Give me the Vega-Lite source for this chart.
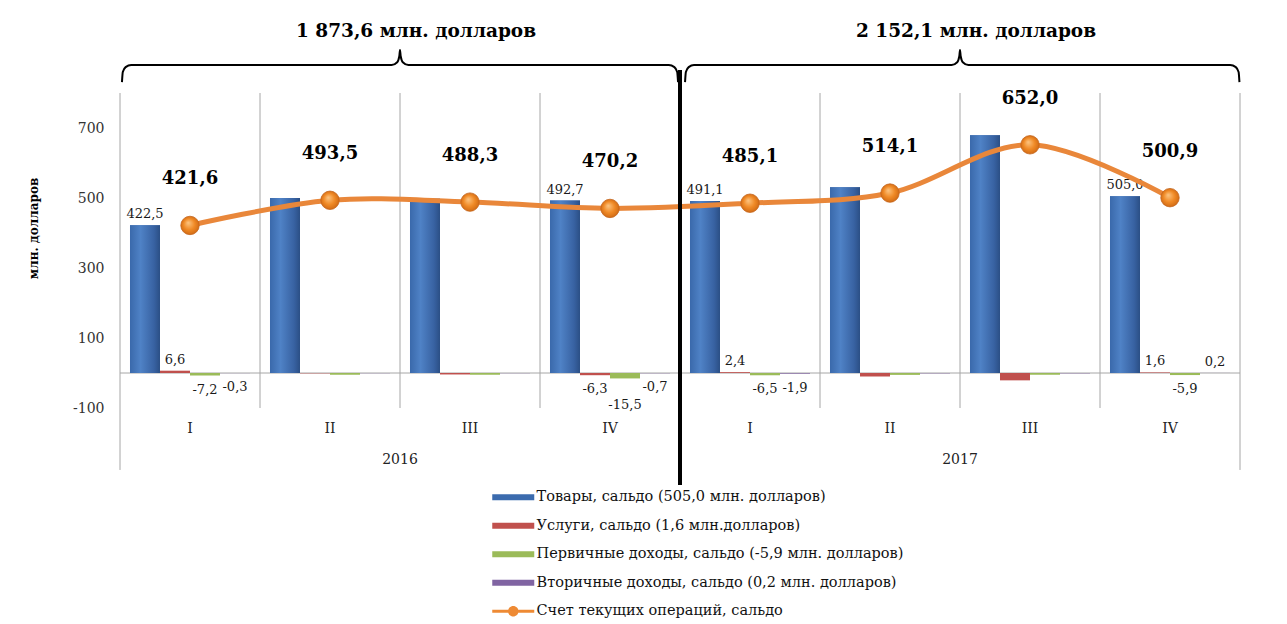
{
  "$schema": "https://vega.github.io/schema/vega-lite/v6.json",
  "width": 1120,
  "height": 315,
  "autosize": {"type": "none"},
  "padding": {"left": 120, "top": 93, "right": 47, "bottom": 216},
  "background": "white",
  "config": {
    "locale": {"number": {"decimal": ",", "thousands": " ", "grouping": [3], "currency": ["", ""], "minus": "-"}},
    "view": {"stroke": null},
    "font": "DejaVu Serif",
    "text": {"font": "DejaVu Serif"},
    "axis": {"labelFont": "DejaVu Serif", "titleFont": "DejaVu Serif"},
    "legend": {"labelFont": "DejaVu Serif"}
  },
  "datasets": {
    "bars": [
      {"q": "2016-I", "quarter": "I", "series": "Товары, сальдо (505,0 млн. долларов)", "value": 422.5},
      {"q": "2016-I", "quarter": "I", "series": "Услуги, сальдо (1,6 млн.долларов)", "value": 6.6},
      {"q": "2016-I", "quarter": "I", "series": "Первичные доходы, сальдо (-5,9 млн. долларов)", "value": -7.2},
      {"q": "2016-I", "quarter": "I", "series": "Вторичные доходы, сальдо (0,2 млн. долларов)", "value": -0.3},
      {"q": "2016-II", "quarter": "II", "series": "Товары, сальдо (505,0 млн. долларов)", "value": 500.0},
      {"q": "2016-II", "quarter": "II", "series": "Услуги, сальдо (1,6 млн.долларов)", "value": -1.0},
      {"q": "2016-II", "quarter": "II", "series": "Первичные доходы, сальдо (-5,9 млн. долларов)", "value": -5.0},
      {"q": "2016-II", "quarter": "II", "series": "Вторичные доходы, сальдо (0,2 млн. долларов)", "value": -0.5},
      {"q": "2016-III", "quarter": "III", "series": "Товары, сальдо (505,0 млн. долларов)", "value": 498.0},
      {"q": "2016-III", "quarter": "III", "series": "Услуги, сальдо (1,6 млн.долларов)", "value": -4.2},
      {"q": "2016-III", "quarter": "III", "series": "Первичные доходы, сальдо (-5,9 млн. долларов)", "value": -5.0},
      {"q": "2016-III", "quarter": "III", "series": "Вторичные доходы, сальдо (0,2 млн. долларов)", "value": -0.5},
      {"q": "2016-IV", "quarter": "IV", "series": "Товары, сальдо (505,0 млн. долларов)", "value": 492.7},
      {"q": "2016-IV", "quarter": "IV", "series": "Услуги, сальдо (1,6 млн.долларов)", "value": -6.3},
      {"q": "2016-IV", "quarter": "IV", "series": "Первичные доходы, сальдо (-5,9 млн. долларов)", "value": -15.5},
      {"q": "2016-IV", "quarter": "IV", "series": "Вторичные доходы, сальдо (0,2 млн. долларов)", "value": -0.7},
      {"q": "2017-I", "quarter": "I", "series": "Товары, сальдо (505,0 млн. долларов)", "value": 491.1},
      {"q": "2017-I", "quarter": "I", "series": "Услуги, сальдо (1,6 млн.долларов)", "value": 2.4},
      {"q": "2017-I", "quarter": "I", "series": "Первичные доходы, сальдо (-5,9 млн. долларов)", "value": -6.5},
      {"q": "2017-I", "quarter": "I", "series": "Вторичные доходы, сальдо (0,2 млн. долларов)", "value": -1.9},
      {"q": "2017-II", "quarter": "II", "series": "Товары, сальдо (505,0 млн. долларов)", "value": 530.5},
      {"q": "2017-II", "quarter": "II", "series": "Услуги, сальдо (1,6 млн.долларов)", "value": -10.0},
      {"q": "2017-II", "quarter": "II", "series": "Первичные доходы, сальдо (-5,9 млн. долларов)", "value": -5.4},
      {"q": "2017-II", "quarter": "II", "series": "Вторичные доходы, сальдо (0,2 млн. долларов)", "value": -1.0},
      {"q": "2017-III", "quarter": "III", "series": "Товары, сальдо (505,0 млн. долларов)", "value": 679.0},
      {"q": "2017-III", "quarter": "III", "series": "Услуги, сальдо (1,6 млн.долларов)", "value": -21.0},
      {"q": "2017-III", "quarter": "III", "series": "Первичные доходы, сальдо (-5,9 млн. долларов)", "value": -5.0},
      {"q": "2017-III", "quarter": "III", "series": "Вторичные доходы, сальдо (0,2 млн. долларов)", "value": -1.0},
      {"q": "2017-IV", "quarter": "IV", "series": "Товары, сальдо (505,0 млн. долларов)", "value": 505.0},
      {"q": "2017-IV", "quarter": "IV", "series": "Услуги, сальдо (1,6 млн.долларов)", "value": 1.6},
      {"q": "2017-IV", "quarter": "IV", "series": "Первичные доходы, сальдо (-5,9 млн. долларов)", "value": -5.9},
      {"q": "2017-IV", "quarter": "IV", "series": "Вторичные доходы, сальдо (0,2 млн. долларов)", "value": 0.2}
    ],
    "ca": [
      {"q": "2016-I", "quarter": "I", "value": 421.6},
      {"q": "2016-II", "quarter": "II", "value": 493.5},
      {"q": "2016-III", "quarter": "III", "value": 488.3},
      {"q": "2016-IV", "quarter": "IV", "value": 470.2},
      {"q": "2017-I", "quarter": "I", "value": 485.1},
      {"q": "2017-II", "quarter": "II", "value": 514.1},
      {"q": "2017-III", "quarter": "III", "value": 652.0},
      {"q": "2017-IV", "quarter": "IV", "value": 500.9}
    ],
    "years": [
      {"q": "2016-III", "year": "2016", "title": "1 873,6 млн. долларов"},
      {"q": "2017-III", "year": "2017", "title": "2 152,1 млн. долларов"}
    ],
    "braces": [
      {"brace": "2016", "pos": 0.014, "v": 831},
      {"brace": "2016", "pos": 0.02, "v": 860},
      {"brace": "2016", "pos": 0.04, "v": 874},
      {"brace": "2016", "pos": 0.08, "v": 880},
      {"brace": "2016", "pos": 1.94, "v": 880},
      {"brace": "2016", "pos": 1.98, "v": 888},
      {"brace": "2016", "pos": 1.995, "v": 905},
      {"brace": "2016", "pos": 2.0, "v": 923},
      {"brace": "2016", "pos": 2.005, "v": 905},
      {"brace": "2016", "pos": 2.02, "v": 888},
      {"brace": "2016", "pos": 2.06, "v": 880},
      {"brace": "2016", "pos": 3.92, "v": 880},
      {"brace": "2016", "pos": 3.96, "v": 874},
      {"brace": "2016", "pos": 3.98, "v": 860},
      {"brace": "2016", "pos": 3.986, "v": 831},
      {"brace": "2017", "pos": 4.036, "v": 831},
      {"brace": "2017", "pos": 4.042, "v": 860},
      {"brace": "2017", "pos": 4.062, "v": 874},
      {"brace": "2017", "pos": 4.1, "v": 880},
      {"brace": "2017", "pos": 5.94, "v": 880},
      {"brace": "2017", "pos": 5.98, "v": 888},
      {"brace": "2017", "pos": 5.995, "v": 905},
      {"brace": "2017", "pos": 6.0, "v": 923},
      {"brace": "2017", "pos": 6.005, "v": 905},
      {"brace": "2017", "pos": 6.02, "v": 888},
      {"brace": "2017", "pos": 6.06, "v": 880},
      {"brace": "2017", "pos": 7.93, "v": 880},
      {"brace": "2017", "pos": 7.97, "v": 874},
      {"brace": "2017", "pos": 7.99, "v": 860},
      {"brace": "2017", "pos": 7.996, "v": 831}
    ]
  },
  "layer": [
    {
      "layer": [
        {
          "data": {"values": [{}]},
          "mark": {"type": "rule", "color": "#A6A6A6", "strokeWidth": 1},
          "encoding": {"y": {"datum": 0, "type": "quantitative"}}
        },
        {
          "data": {"name": "ca"},
          "transform": [{"filter": "datum.quarter != 'I'"}],
          "mark": {"type": "rule", "color": "#A6A6A6", "strokeWidth": 1},
          "encoding": {
            "x": {"field": "q", "type": "nominal", "bandPosition": 0, "axis": null},
            "y": {"datum": 800, "type": "quantitative"},
            "y2": {"datum": -100}
          }
        },
        {
          "data": {"name": "ca"},
          "transform": [{"filter": "datum.q == '2016-I'"}],
          "mark": {"type": "rule", "color": "#A6A6A6", "strokeWidth": 1},
          "encoding": {
            "x": {"field": "q", "type": "nominal", "bandPosition": 0, "axis": null},
            "y": {"datum": 800, "type": "quantitative"},
            "y2": {"datum": -277}
          }
        },
        {
          "data": {"name": "ca"},
          "transform": [{"filter": "datum.q == '2017-IV'"}],
          "mark": {"type": "rule", "color": "#A6A6A6", "strokeWidth": 1},
          "encoding": {
            "x": {"field": "q", "type": "nominal", "bandPosition": 1, "axis": null},
            "y": {"datum": 800, "type": "quantitative"},
            "y2": {"datum": -277}
          }
        },
        {
          "data": {"name": "bars"},
          "mark": {"type": "bar"},
          "encoding": {
            "x": {"field": "q", "type": "nominal", "axis": null,
                  "scale": {"domain": ["2016-I", "2016-II", "2016-III", "2016-IV", "2017-I", "2017-II", "2017-III", "2017-IV"], "paddingInner": 0, "paddingOuter": 0}},
            "xOffset": {"field": "series", "type": "nominal",
                        "scale": {"domain": ["Товары, сальдо (505,0 млн. долларов)", "Услуги, сальдо (1,6 млн.долларов)", "Первичные доходы, сальдо (-5,9 млн. долларов)", "Вторичные доходы, сальдо (0,2 млн. долларов)"], "paddingInner": 0, "paddingOuter": 0.3333}},
            "y": {"field": "value", "type": "quantitative",
                  "scale": {"domain": [-100, 800], "nice": false, "zero": false},
                  "axis": {"values": [-100, 100, 300, 500, 700], "grid": false, "ticks": false, "domain": false,
                           "labelFontSize": 14, "labelColor": "#333333", "labelPadding": 16, "format": "d",
                           "title": "млн. долларов", "titleFontSize": 12, "titleFontWeight": "bold", "titleColor": "#000000",
                           "titleX": -87, "titleY": 135, "titleAngle": -90, "titleBaseline": "middle", "titleAlign": "center"}},
            "color": {"field": "series", "type": "nominal",
                      "scale": {"domain": ["Товары, сальдо (505,0 млн. долларов)", "Услуги, сальдо (1,6 млн.долларов)", "Первичные доходы, сальдо (-5,9 млн. долларов)", "Вторичные доходы, сальдо (0,2 млн. долларов)", "Счет текущих операций, сальдо"],
                                "range": ["#3B6BAE", "#C0504D", "#9BBB59", "#8064A2", "#EE8A34"]},
                      "legend": {"orient": "none", "legendX": 386, "legendY": 397, "direction": "vertical", "title": null,
                                 "labelFontSize": 14.5, "labelColor": "#111111", "labelLimit": 0, "labelOffset": 16,
                                 "symbolSize": 196, "symbolStrokeWidth": 0, "rowPadding": 13.5, "symbolType": "M-3,-0.43H3V0.43H-3Z",
                                 "encode": {"symbols": {"update": {"shape": {"signal": "datum.value === 'Счет текущих операций, сальдо' ? 'M-3,-0.2H3V0.2H-3Z M0,-0.75A0.75,0.75 0 1,1 0,0.75A0.75,0.75 0 1,1 0,-0.75Z' : 'M-3,-0.43H3V0.43H-3Z'"}}}}}}
          }
        },
        {
          "data": {"name": "bars"},
          "transform": [{"filter": "datum.series == 'Товары, сальдо (505,0 млн. долларов)'"}],
          "mark": {"type": "bar",
                   "fill": {"gradient": "linear", "x1": 0, "y1": 0, "x2": 1, "y2": 0,
                            "stops": [{"offset": 0, "color": "#3A69AB"}, {"offset": 0.35, "color": "#4F82C6"}, {"offset": 0.8, "color": "#3862A2"}, {"offset": 1, "color": "#2B4F85"}]}},
          "encoding": {
            "x": {"field": "q", "type": "nominal", "axis": null},
            "xOffset": {"field": "series", "type": "nominal"},
            "y": {"field": "value", "type": "quantitative"}
          }
        },
        {
          "data": {"name": "bars"},
          "transform": [{"filter": "(datum.quarter == 'I' || datum.quarter == 'IV') && datum.value >= 0"}],
          "mark": {"type": "text", "baseline": "bottom", "dy": -4, "fontSize": 13, "color": "#1A1A1A"},
          "encoding": {
            "x": {"field": "q", "type": "nominal", "axis": null},
            "xOffset": {"field": "series", "type": "nominal"},
            "y": {"field": "value", "type": "quantitative"},
            "text": {"field": "value", "type": "quantitative", "format": ".1f"}
          }
        },
        {
          "data": {"name": "bars"},
          "transform": [{"filter": "(datum.quarter == 'I' || datum.quarter == 'IV') && datum.value < 0 && datum.value >= -10"}],
          "mark": {"type": "text", "baseline": "top", "dy": 8, "fontSize": 13, "color": "#1A1A1A"},
          "encoding": {
            "x": {"field": "q", "type": "nominal", "axis": null},
            "xOffset": {"field": "series", "type": "nominal"},
            "y": {"field": "value", "type": "quantitative"},
            "text": {"field": "value", "type": "quantitative", "format": ".1f"}
          }
        },
        {
          "data": {"name": "bars"},
          "transform": [{"filter": "(datum.quarter == 'I' || datum.quarter == 'IV') && datum.value < -10"}],
          "mark": {"type": "text", "baseline": "top", "dy": 21, "fontSize": 13, "color": "#1A1A1A"},
          "encoding": {
            "x": {"field": "q", "type": "nominal", "axis": null},
            "xOffset": {"field": "series", "type": "nominal"},
            "y": {"field": "value", "type": "quantitative"},
            "text": {"field": "value", "type": "quantitative", "format": ".1f"}
          }
        },
        {
          "data": {"name": "ca"},
          "mark": {"type": "line", "interpolate": "cardinal", "color": "#E9873A", "strokeWidth": 5},
          "encoding": {
            "x": {"field": "q", "type": "nominal", "axis": null},
            "y": {"field": "value", "type": "quantitative"}
          }
        },
        {
          "data": {"name": "ca"},
          "mark": {"type": "point", "filled": true, "size": 340, "opacity": 1, "stroke": "#C4651C", "strokeWidth": 0.8,
                   "fill": {"gradient": "radial", "x1": 0.4, "y1": 0.35, "r1": 0, "x2": 0.5, "y2": 0.5, "r2": 0.55,
                            "stops": [{"offset": 0, "color": "#FCC583"}, {"offset": 0.55, "color": "#F08A26"}, {"offset": 1, "color": "#CC6612"}]}},
          "encoding": {
            "x": {"field": "q", "type": "nominal", "axis": null},
            "y": {"field": "value", "type": "quantitative"}
          }
        },
        {
          "data": {"name": "ca"},
          "mark": {"type": "text", "baseline": "middle", "dy": -46, "fontSize": 18, "fontWeight": "bold", "color": "#000000"},
          "encoding": {
            "x": {"field": "q", "type": "nominal", "axis": null},
            "y": {"field": "value", "type": "quantitative"},
            "text": {"field": "value", "type": "quantitative", "format": ".1f"}
          }
        },
        {
          "data": {"name": "ca"},
          "mark": {"type": "text", "baseline": "middle", "fontSize": 14, "color": "#222222"},
          "encoding": {
            "x": {"field": "q", "type": "nominal", "axis": null},
            "y": {"datum": -160, "type": "quantitative"},
            "text": {"field": "quarter"}
          }
        },
        {
          "data": {"name": "years"},
          "mark": {"type": "text", "baseline": "middle", "fontSize": 14, "color": "#222222"},
          "encoding": {
            "x": {"field": "q", "type": "nominal", "bandPosition": 0, "axis": null},
            "y": {"datum": -249, "type": "quantitative"},
            "text": {"field": "year"}
          }
        },
        {
          "data": {"name": "years"},
          "mark": {"type": "text", "baseline": "middle", "fontSize": 18.5, "fontWeight": "bold", "color": "#000000", "dx": 16},
          "encoding": {
            "x": {"field": "q", "type": "nominal", "bandPosition": 0, "axis": null},
            "y": {"datum": 977, "type": "quantitative"},
            "text": {"field": "title"}
          }
        },
        {
          "data": {"name": "ca"},
          "transform": [{"filter": "datum.q == '2017-I'"}],
          "mark": {"type": "rule", "color": "#000000", "strokeWidth": 4},
          "encoding": {
            "x": {"field": "q", "type": "nominal", "bandPosition": 0, "axis": null},
            "y": {"datum": 866, "type": "quantitative"},
            "y2": {"datum": -320}
          }
        }
      ]
    },
    {
      "data": {"name": "braces"},
      "mark": {"type": "line", "interpolate": "monotone", "color": "#000000", "strokeWidth": 2},
      "encoding": {
        "x": {"field": "pos", "type": "quantitative", "scale": {"domain": [0, 8], "nice": false, "zero": false}, "axis": null},
        "y": {"field": "v", "type": "quantitative", "scale": {"domain": [-100, 800], "nice": false, "zero": false}},
        "detail": {"field": "brace"}
      }
    }
  ],
  "resolve": {"scale": {"x": "independent"}}
}
